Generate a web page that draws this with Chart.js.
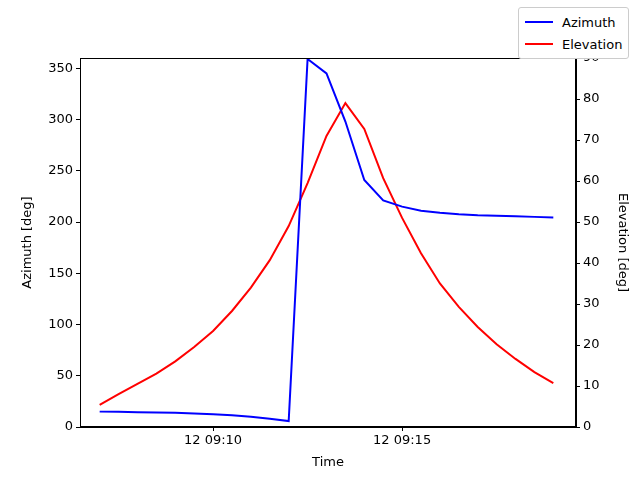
<!DOCTYPE html>
<html><head>
<script src="https://cdn.jsdelivr.net/npm/chart.js@4"></script>
<style>
body{margin:0;background:#fff;font-family:"DejaVu Sans",sans-serif}
#wrap{position:relative;width:640px;height:480px}
#legend{position:absolute;left:518px;top:7px;border:1px solid #ccc;border-radius:3px;background:#fff;padding:3px 6px;font-size:13px}
#legend div{display:flex;align-items:center;height:22px}
#legend span.l{display:inline-block;width:28px;height:2px;margin-right:9px}
</style></head>
<body><div id="wrap"><canvas id="c" width="640" height="480"></canvas>
<div id="legend"><div><span class="l" style="background:blue"></span>Azimuth</div><div><span class="l" style="background:red"></span>Elevation</div></div></div>
<script>
// minutes after 09:00
const times = [7,7.5,8,8.5,9,9.5,10,10.5,11,11.5,12,12.5,13,13.5,14,14.5,15,15.5,16,16.5,17,17.5,18,18.5,19];
const azimuth = [15,14.8,14.5,14.2,13.8,13.2,12.5,11.5,10,8,5.8,359,345,298,241,221,215,211,209,207.5,206.5,206,205.5,205,204.5];
const elevation = [5.4,8,10.5,13,16,19.5,23.4,28.3,34,40.7,49,59.5,71,79,72.7,60.7,51,42.4,35,29.3,24.4,20.2,16.6,13.4,10.7];
const xTicks = [10,15];
const azTicks = [0,50,100,150,200,250,300,350];

const font = {family:"DejaVu Sans",size:13};
const tickGrid = {drawOnChartArea:false,drawTicks:true,tickLength:4,color:"#000"};
const frame = {id:"frame",afterDraw(c){const a=c.chartArea,x=c.ctx;x.save();x.strokeStyle="#000";x.lineWidth=1;x.strokeRect(a.left+0.5,a.top+0.5,a.right-a.left-1,a.bottom-a.top-1);x.restore();}};
new Chart(document.getElementById("c"), {
  type:"line",
  data:{datasets:[
    {label:"Azimuth",data:times.map((t,i)=>({x:t,y:azimuth[i]})),borderColor:"blue",borderWidth:2,pointRadius:0,yAxisID:"y"},
    {label:"Elevation",data:times.map((t,i)=>({x:t,y:elevation[i]})),borderColor:"red",borderWidth:2,pointRadius:0,yAxisID:"y1"}
  ]},
  plugins:[frame],
  options:{
    responsive:false,animation:false,
    layout:{padding:{top:58,left:20,right:10,bottom:10}},
    plugins:{legend:{display:false},tooltip:{enabled:false}},
    scales:{
      x:{type:"linear",min:6.48,max:19.6,grid:tickGrid,border:{color:"#000"},
        afterBuildTicks:s=>{s.ticks=xTicks.map(v=>({value:v}))},
        afterFit:s=>{s.height=43},
        ticks:{color:"#000",font,padding:2,callback:v=>"12 09:"+String(v).padStart(2,"0")},
        title:{display:true,text:"Time",color:"#000",font,padding:{top:2,bottom:0}}},
      y:{position:"left",min:0,max:360,grid:tickGrid,border:{color:"#000"},
        afterBuildTicks:s=>{s.ticks=azTicks.map(v=>({value:v}))},
        afterFit:s=>{s.width=60},
        ticks:{color:"#000",font,padding:3},
        title:{display:true,text:"Azimuth [deg]",color:"#000",font,padding:{top:0,bottom:4}}},
      y1:{position:"right",min:0,max:90,grid:tickGrid,border:{color:"#000"},
        afterFit:s=>{s.width=54},
        ticks:{stepSize:10,color:"#000",font,padding:3},
        title:{display:true,text:"Elevation [deg]",color:"#000",font,padding:{top:0,bottom:4}}}
    }
  }
});
</script></body></html>
